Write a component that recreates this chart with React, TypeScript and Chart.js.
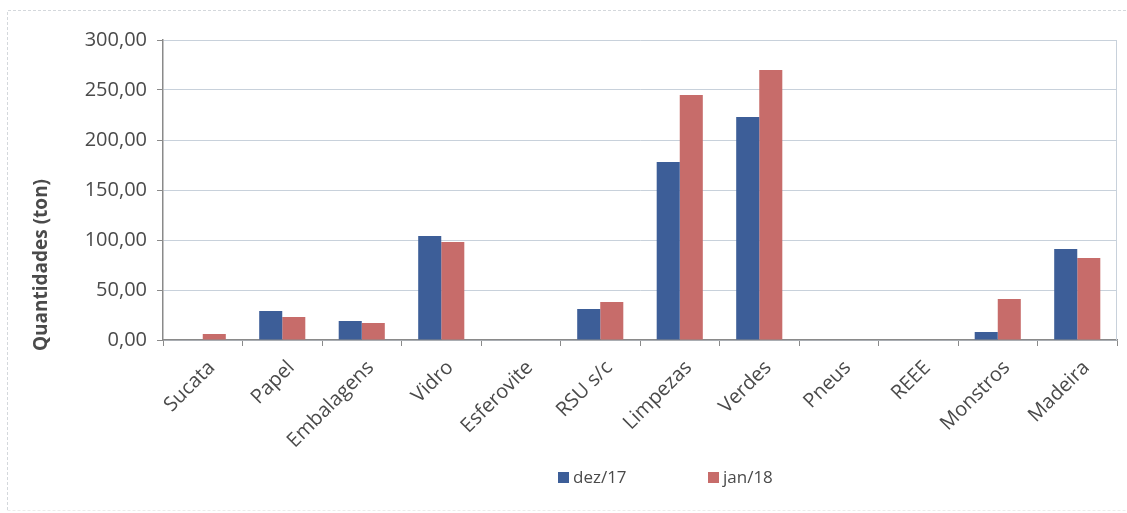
import React, { useEffect, useRef } from "react";
import { Chart, registerables } from "chart.js";

Chart.register(...registerables);

const categories = ["Sucata", "Papel", "Embalagens", "Vidro", "Esferovite", "RSU s/c", "Limpezas", "Verdes", "Pneus", "REEE", "Monstros", "Madeira"];
const dez17 = [0, 29, 19, 104, 0, 31, 178, 223, 0, 0, 8, 91];
const jan18 = [6, 23, 17, 98, 0, 38, 245, 270, 0, 0, 41, 82];
const seriesLabels = ["dez/17", "jan/18"];
const seriesColors = ["#3D5E98", "#C76C6A"];
const yTicks = [0, 50, 100, 150, 200, 250, 300];
const yTitle = "Quantidades (ton)";

const FONT = "'Open Sans', sans-serif";
const TEXT = "#4a4a4a";
const GRID = "#c8d1db";

const framePlugin = {
  id: "frame",
  beforeDraw(chart: any) {
    const ctx = chart.ctx;
    ctx.save();
    ctx.strokeStyle = "#d4d8dc";
    ctx.lineWidth = 1;
    ctx.setLineDash([3, 2]);
    ctx.beginPath();
    ctx.moveTo(7.5, 510);
    ctx.lineTo(7.5, 10.5);
    ctx.lineTo(1127, 10.5);
    ctx.stroke();
    ctx.strokeStyle = "#ececec";
    ctx.beginPath();
    ctx.moveTo(7.5, 510.5);
    ctx.lineTo(1127, 510.5);
    ctx.stroke();
    ctx.restore();
  },
};

const extrasPlugin = {
  id: "extras",
  beforeDatasetsDraw(chart: any) {
    const ctx = chart.ctx;
    const a = chart.chartArea;
    ctx.save();
    ctx.strokeStyle = GRID;
    ctx.lineWidth = 1;
    ctx.beginPath();
    ctx.moveTo(Math.round(a.right) - 0.5, a.top);
    ctx.lineTo(Math.round(a.right) - 0.5, a.bottom);
    ctx.stroke();
    ctx.restore();
  },
  afterDraw(chart: any) {
    const ctx = chart.ctx;
    ctx.save();
    ctx.translate(42, 265);
    ctx.rotate(-Math.PI / 2);
    ctx.font = `bold 19px ${FONT}`;
    ctx.fillStyle = TEXT;
    ctx.textAlign = "center";
    ctx.textBaseline = "middle";
    ctx.fillText(yTitle, 0, 0);
    ctx.restore();

    ctx.save();
    ctx.font = `17px ${FONT}`;
    ctx.textBaseline = "middle";
    ctx.textAlign = "left";
    const xs = [558, 708];
    chart.data.datasets.forEach((ds: any, i: number) => {
      ctx.fillStyle = ds.backgroundColor;
      ctx.fillRect(xs[i], 472, 11, 11);
      ctx.fillStyle = TEXT;
      ctx.fillText(ds.label, xs[i] + 15, 478);
    });
    ctx.restore();
  },
};

export default function App() {
  const ref = useRef<HTMLCanvasElement>(null);
  useEffect(() => {
    document.body.style.margin = "0";
    const chart = new Chart(ref.current!, {
      type: "bar",
      data: {
        labels: categories,
        datasets: [
          { label: seriesLabels[0], data: dez17, backgroundColor: seriesColors[0], categoryPercentage: 0.58, barPercentage: 1 },
          { label: seriesLabels[1], data: jan18, backgroundColor: seriesColors[1], categoryPercentage: 0.58, barPercentage: 1 },
        ],
      },
      options: {
        responsive: false,
        animation: false,
        layout: { padding: { top: 40, right: 10, left: 0, bottom: 0 } },
        plugins: { legend: { display: false }, tooltip: { enabled: false } },
        scales: {
          x: {
            grid: { display: true, drawOnChartArea: false, drawTicks: true, tickLength: 6, color: "#8a8a8a", offset: true },
            border: { display: true, color: "#8a8a8a", width: 1.5 },
            ticks: { minRotation: 45, maxRotation: 45, autoSkip: false, color: TEXT, font: { family: FONT, size: 20 }, padding: 10, labelOffset: 9 },
            afterFit(scale: any) { scale.height = 173; },
          },
          y: {
            min: 0,
            max: 300,
            afterBuildTicks(scale: any) { scale.ticks = yTicks.map((v) => ({ value: v })); },
            grid: { color: GRID, tickLength: 6, drawTicks: true, tickColor: "#8a8a8a" },
            border: { display: true, color: "#8a8a8a", width: 1.5 },
            ticks: {
              color: TEXT,
              font: { family: FONT, size: 20 },
              padding: 10,
              callback: (v: any) => Number(v).toFixed(2).replace(".", ","),
            },
            afterFit(scale: any) { scale.width = 163; },
          },
        },
      },
      plugins: [framePlugin, extrasPlugin],
    });
    return () => chart.destroy();
  }, []);
  return (
    <div style={{ position: "fixed", left: 0, top: 0, width: 1127, height: 513, background: "#fff" }}>
      <canvas ref={ref} width={1127} height={513} style={{ display: "block" }} />
    </div>
  );
}
